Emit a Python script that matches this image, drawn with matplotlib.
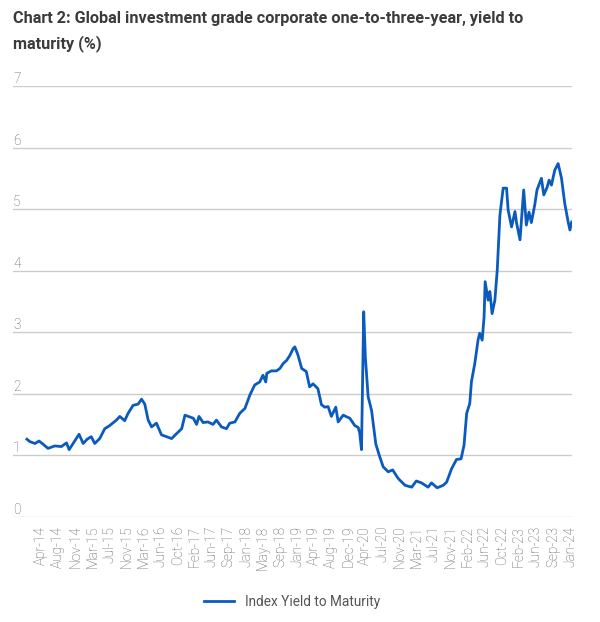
import matplotlib
matplotlib.use("Agg")
import matplotlib.pyplot as plt
import matplotlib.dates as mdates
import matplotlib.transforms as mtransforms
import numpy as np
import pandas as pd

# ==========================================
# DATA
# ==========================================
dates = [
    "2014-01-01", "2014-01-21", "2014-02-25", "2014-03-24", "2014-04-20", "2014-05-24",
    "2014-07-08", "2014-08-23", "2014-09-26", "2014-10-14", "2014-11-10", "2014-12-20",
    "2015-01-17", "2015-02-13", "2015-03-13", "2015-04-05", "2015-05-09", "2015-06-12",
    "2015-07-15", "2015-08-30", "2015-09-22", "2015-10-25", "2015-11-17", "2015-12-21",
    "2016-01-24", "2016-02-16", "2016-03-09", "2016-04-01", "2016-04-24", "2016-05-27",
    "2016-06-30", "2016-08-04", "2016-09-07", "2016-10-10", "2016-11-14", "2016-12-06",
    "2016-12-28", "2017-02-01", "2017-02-23", "2017-03-11", "2017-04-08", "2017-05-11",
    "2017-06-14", "2017-07-07", "2017-08-10", "2017-09-13", "2017-10-05", "2017-11-09",
    "2017-12-12", "2018-01-16", "2018-02-19", "2018-03-23", "2018-04-26", "2018-05-18",
    "2018-06-06", "2018-06-13", "2018-07-14", "2018-08-18", "2018-09-10", "2018-10-02",
    "2018-10-25", "2018-11-16", "2018-12-08", "2018-12-20", "2019-01-11", "2019-02-04",
    "2019-03-07", "2019-03-30", "2019-04-22", "2019-05-25", "2019-06-18", "2019-07-10",
    "2019-08-02", "2019-08-24", "2019-09-23", "2019-10-09", "2019-11-12", "2019-12-27",
    "2020-01-30", "2020-02-22", "2020-03-03", "2020-03-15", "2020-03-30", "2020-04-10",
    "2020-04-29", "2020-05-22", "2020-06-20", "2020-07-17", "2020-08-09", "2020-09-12",
    "2020-10-12", "2020-11-19", "2021-01-04", "2021-02-18", "2021-03-21", "2021-04-25",
    "2021-06-09", "2021-07-02", "2021-08-09", "2021-09-19", "2021-10-12", "2021-11-15",
    "2021-12-18", "2022-01-18", "2022-02-07", "2022-02-25", "2022-03-18", "2022-03-29",
    "2022-04-21", "2022-05-13", "2022-05-24", "2022-06-10", "2022-06-23", "2022-06-30",
    "2022-07-20", "2022-08-01", "2022-08-16", "2022-09-04", "2022-09-20", "2022-10-08",
    "2022-10-30", "2022-11-22", "2022-12-03", "2022-12-26", "2023-01-18", "2023-01-29",
    "2023-02-21", "2023-03-18", "2023-04-05", "2023-04-23", "2023-05-09", "2023-06-01",
    "2023-06-16", "2023-07-16", "2023-08-01", "2023-08-23", "2023-09-06", "2023-09-22",
    "2023-10-14", "2023-11-06", "2023-11-29", "2023-12-21", "2024-01-13", "2024-01-25",
    "2024-02-06",
]
ytm = [
    1.26, 1.22, 1.19, 1.23, 1.18, 1.11,
    1.15, 1.14, 1.20, 1.09, 1.19, 1.34,
    1.19, 1.26, 1.30, 1.19, 1.27, 1.43,
    1.48, 1.57, 1.63, 1.56, 1.68, 1.81,
    1.83, 1.91, 1.83, 1.57, 1.46, 1.52,
    1.33, 1.30, 1.27, 1.35, 1.43, 1.65,
    1.63, 1.60, 1.50, 1.63, 1.53, 1.54,
    1.50, 1.57, 1.46, 1.43, 1.52, 1.54,
    1.68, 1.76, 1.98, 2.14, 2.19, 2.30,
    2.19, 2.33, 2.37, 2.37, 2.41, 2.49,
    2.54, 2.62, 2.73, 2.76, 2.62, 2.41,
    2.36, 2.11, 2.16, 2.08, 1.82, 1.78,
    1.79, 1.63, 1.78, 1.54, 1.65, 1.60,
    1.48, 1.45, 1.36, 1.09, 3.33, 2.60,
    1.95, 1.73, 1.18, 0.97, 0.81, 0.73,
    0.76, 0.62, 0.51, 0.48, 0.58, 0.55,
    0.48, 0.55, 0.47, 0.51, 0.56, 0.78,
    0.93, 0.94, 1.16, 1.68, 1.84, 2.19,
    2.49, 2.87, 2.98, 2.87, 3.25, 3.82,
    3.52, 3.66, 3.30, 3.52, 4.01, 4.90,
    5.34, 5.34, 4.98, 4.71, 4.96, 4.77,
    4.50, 5.31, 4.74, 4.95, 4.78, 5.07,
    5.31, 5.50, 5.23, 5.35, 5.47, 5.39,
    5.63, 5.74, 5.50, 5.09, 4.79, 4.66,
    4.79,
]
tick_labels = [
    "Apr-14", "Aug-14", "Nov-14", "Mar-15", "Jul-15", "Nov-15", "Mar-16", "Jun-16",
    "Oct-16", "Feb-17", "Jun-17", "Sep-17", "Jan-18", "May-18", "Sep-18", "Jan-19",
    "Apr-19", "Aug-19", "Dec-19", "Apr-20", "Jul-20", "Nov-20", "Mar-21", "Jul-21",
    "Nov-21", "Feb-22", "Jun-22", "Oct-22", "Feb-23", "Jun-23", "Sep-23", "Jan-24",
]
y_ticks = [0, 1, 2, 3, 4, 5, 6, 7]

TITLE = "Chart 2: Global investment grade corporate one-to-three-year, yield to\nmaturity (%)"
SERIES_NAME = "Index Yield to Maturity"

# ==========================================
# STYLE
# ==========================================
line_color = '#0a5bbd'
grid_color = '#cccccc'
text_color = '#5e5e5e'
title_color = '#3b3b3b'

plt.rcParams['font.family'] = ['Roboto', 'DejaVu Sans']

fig = plt.figure(figsize=(6.0, 6.22), dpi=100)
ax = fig.add_axes([13 / 600, 105.3 / 622, 559 / 600, 430.7 / 622])

x = pd.to_datetime(dates)
ax.plot(x, ytm, color=line_color, linewidth=2.0, label=SERIES_NAME, solid_joinstyle='round')

ax.set_ylim(0, 7)
ax.set_xlim(pd.Timestamp("2013-09-29"), pd.Timestamp("2024-02-08"))

# gridlines instead of spines
for s in ax.spines.values():
    s.set_visible(False)
ax.set_yticks(y_ticks)
ax.yaxis.grid(True, color=grid_color, linewidth=1.0)
ax.tick_params(axis='y', left=False, labelleft=False)

# y labels sit above each gridline at the left edge
trans = mtransforms.blended_transform_factory(ax.transAxes, ax.transData)
for v in y_ticks:
    ax.text(0.0, v, str(v), transform=trans, ha='left', va='bottom',
            fontsize=9.8, color=text_color, fontweight='light')

# evenly spaced category-style date labels
first = mdates.date2num(pd.Timestamp("2014-04-08"))
last = mdates.date2num(pd.Timestamp("2024-01-25"))
ax.set_xticks(np.linspace(first, last, len(tick_labels)))
ax.set_xticklabels(tick_labels, rotation=90, fontsize=9.8, color=text_color, fontweight='light')
ax.tick_params(axis='x', bottom=False, pad=3)

fig.text(13 / 600, 1 - 11 / 622, TITLE, ha='left', va='top', fontsize=11.7,
         fontweight='bold', color=title_color, linespacing=1.7)

fig.legend(loc='center', bbox_to_anchor=(0.487, 20.3 / 622), frameon=False,
           handlelength=2.2, fontsize=9.8, labelcolor='#555555')

plt.savefig("out.png", dpi=100)
